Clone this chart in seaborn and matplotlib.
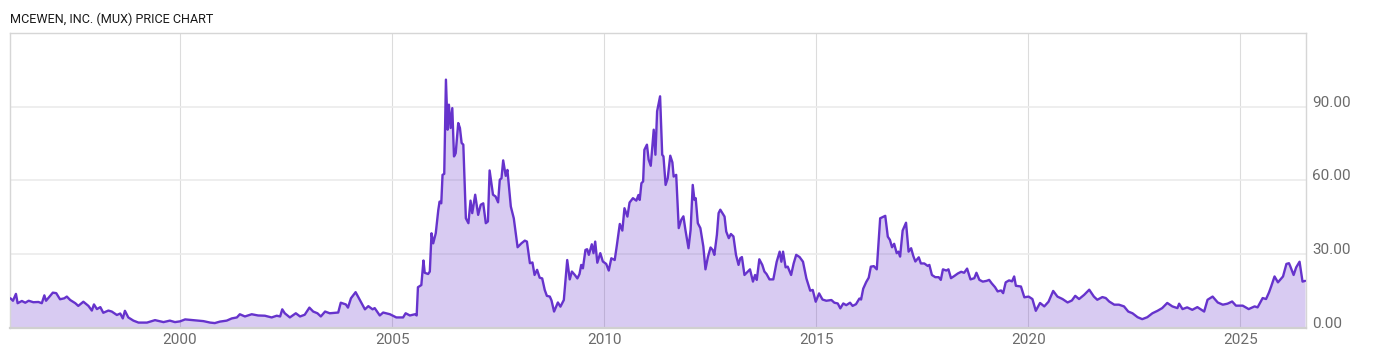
import matplotlib
matplotlib.use("Agg")
import matplotlib.pyplot as plt
import seaborn as sns
import pandas as pd

# ---- data (fractional year, price) ----
years = [
    1996.00, 1996.06, 1996.13, 1996.17, 1996.27, 1996.35, 1996.43, 1996.54, 1996.66, 1996.74,
    1996.80, 1996.84, 1996.94, 1997.00, 1997.08, 1997.17, 1997.27, 1997.33, 1997.41, 1997.53,
    1997.60, 1997.72, 1997.84, 1997.92, 1997.97, 1998.04, 1998.12, 1998.19, 1998.31, 1998.39,
    1998.51, 1998.59, 1998.65, 1998.70, 1998.78, 1998.90, 1999.02, 1999.22, 1999.41, 1999.61,
    1999.76, 1999.88, 2000.00, 2000.12, 2000.31, 2000.55, 2000.71, 2000.82, 2000.94, 2001.10,
    2001.22, 2001.34, 2001.41, 2001.53, 2001.69, 2001.84, 2002.00, 2002.16, 2002.28, 2002.36,
    2002.41, 2002.47, 2002.59, 2002.73, 2002.83, 2002.94, 2003.05, 2003.14, 2003.24, 2003.32,
    2003.42, 2003.53, 2003.73, 2003.79, 2003.91, 2003.96, 2004.03, 2004.14, 2004.24, 2004.36,
    2004.44, 2004.54, 2004.59, 2004.71, 2004.79, 2004.95, 2005.10, 2005.26, 2005.32, 2005.42,
    2005.54, 2005.58, 2005.61, 2005.69, 2005.74, 2005.77, 2005.85, 2005.89, 2005.93, 2005.97,
    2006.03, 2006.09, 2006.12, 2006.16, 2006.19, 2006.23, 2006.27, 2006.31, 2006.34, 2006.38,
    2006.42, 2006.46, 2006.50, 2006.56, 2006.60, 2006.64, 2006.68, 2006.74, 2006.80, 2006.85,
    2006.89, 2006.96, 2007.03, 2007.09, 2007.15, 2007.21, 2007.26, 2007.30, 2007.38, 2007.44,
    2007.50, 2007.54, 2007.58, 2007.62, 2007.68, 2007.72, 2007.80, 2007.87, 2007.96, 2008.05,
    2008.13, 2008.18, 2008.25, 2008.31, 2008.36, 2008.42, 2008.48, 2008.54, 2008.60, 2008.65,
    2008.72, 2008.76, 2008.82, 2008.91, 2008.97, 2009.05, 2009.13, 2009.19, 2009.24, 2009.31,
    2009.37, 2009.42, 2009.46, 2009.50, 2009.56, 2009.60, 2009.64, 2009.71, 2009.75, 2009.79,
    2009.84, 2009.91, 2009.97, 2010.05, 2010.11, 2010.17, 2010.25, 2010.30, 2010.37, 2010.43,
    2010.48, 2010.55, 2010.60, 2010.68, 2010.76, 2010.81, 2010.84, 2010.88, 2010.92, 2010.95,
    2011.01, 2011.05, 2011.10, 2011.17, 2011.21, 2011.25, 2011.32, 2011.37, 2011.40, 2011.45,
    2011.50, 2011.56, 2011.61, 2011.64, 2011.70, 2011.76, 2011.82, 2011.87, 2011.92, 2011.99,
    2012.04, 2012.09, 2012.13, 2012.16, 2012.21, 2012.27, 2012.34, 2012.39, 2012.45, 2012.51,
    2012.56, 2012.60, 2012.66, 2012.70, 2012.74, 2012.84, 2012.88, 2012.94, 2012.99, 2013.05,
    2013.11, 2013.17, 2013.21, 2013.25, 2013.31, 2013.39, 2013.44, 2013.51, 2013.56, 2013.60,
    2013.66, 2013.73, 2013.78, 2013.83, 2013.90, 2013.99, 2014.07, 2014.14, 2014.18, 2014.22,
    2014.28, 2014.33, 2014.41, 2014.47, 2014.53, 2014.61, 2014.69, 2014.77, 2014.86, 2014.92,
    2014.99, 2015.07, 2015.15, 2015.24, 2015.36, 2015.43, 2015.51, 2015.57, 2015.64, 2015.71,
    2015.80, 2015.86, 2015.94, 2016.02, 2016.06, 2016.11, 2016.18, 2016.24, 2016.29, 2016.36,
    2016.43, 2016.51, 2016.59, 2016.63, 2016.69, 2016.74, 2016.79, 2016.84, 2016.90, 2016.94,
    2016.98, 2017.04, 2017.12, 2017.18, 2017.24, 2017.29, 2017.34, 2017.42, 2017.47, 2017.55,
    2017.63, 2017.67, 2017.73, 2017.81, 2017.89, 2017.94, 2017.99, 2018.07, 2018.12, 2018.18,
    2018.26, 2018.34, 2018.42, 2018.49, 2018.56, 2018.64, 2018.73, 2018.78, 2018.85, 2018.93,
    2019.02, 2019.08, 2019.14, 2019.22, 2019.28, 2019.36, 2019.41, 2019.47, 2019.55, 2019.62,
    2019.67, 2019.71, 2019.83, 2019.91, 2020.01, 2020.10, 2020.18, 2020.28, 2020.38, 2020.48,
    2020.59, 2020.69, 2020.81, 2020.93, 2021.03, 2021.11, 2021.20, 2021.32, 2021.44, 2021.55,
    2021.63, 2021.75, 2021.83, 2021.91, 2022.03, 2022.14, 2022.26, 2022.36, 2022.46, 2022.58,
    2022.69, 2022.81, 2022.93, 2023.05, 2023.16, 2023.28, 2023.40, 2023.52, 2023.56, 2023.64,
    2023.75, 2023.87, 2023.99, 2024.15, 2024.23, 2024.35, 2024.47, 2024.59, 2024.70, 2024.81,
    2024.90, 2025.06, 2025.20, 2025.34, 2025.41, 2025.53, 2025.61, 2025.68, 2025.73, 2025.81,
    2025.89, 2026.01, 2026.09, 2026.15, 2026.18, 2026.26, 2026.32, 2026.40, 2026.47, 2026.53,
]
prices = [
    11.9, 10.9, 13.7, 9.9, 10.8, 10.1, 10.9, 10.3, 10.4, 9.9,
    13.1, 10.9, 13.0, 14.2, 14.0, 11.5, 11.9, 12.6, 11.2, 9.9,
    8.8, 10.5, 8.8, 6.9, 9.4, 7.5, 8.3, 6.0, 6.9, 6.5,
    5.1, 5.7, 3.7, 6.8, 4.1, 2.8, 2.0, 2.0, 3.0, 2.2,
    2.8, 2.2, 2.5, 3.3, 3.0, 2.6, 2.0, 1.8, 2.4, 2.8,
    3.7, 4.1, 5.4, 4.5, 5.4, 4.9, 4.8, 4.1, 4.8, 4.5,
    7.4, 5.8, 4.1, 5.8, 4.5, 5.2, 8.1, 6.5, 5.8, 4.5,
    6.5, 5.8, 6.1, 10.1, 9.4, 8.1, 11.9, 14.4, 11.2, 7.4,
    8.7, 7.4, 7.9, 4.9, 6.1, 5.4, 4.1, 4.1, 5.8, 4.9,
    5.4, 4.9, 16.4, 17.3, 27.3, 22.3, 21.8, 22.8, 38.4, 34.3,
    38.4, 47.9, 51.3, 50.6, 62.2, 62.6, 101.0, 80.6, 90.8, 81.3,
    89.4, 69.7, 71.0, 83.3, 81.3, 75.2, 74.5, 44.5, 42.5, 51.7,
    46.6, 54.1, 45.9, 50.0, 50.6, 42.5, 43.2, 64.0, 54.1, 53.4,
    51.0, 60.2, 60.8, 68.1, 61.8, 64.2, 49.3, 44.5, 32.7, 34.3,
    35.4, 35.0, 26.2, 26.5, 21.4, 23.5, 20.3, 20.0, 15.3, 12.9,
    12.6, 11.0, 6.5, 10.2, 8.5, 11.2, 27.5, 19.6, 22.8, 21.4,
    20.0, 21.8, 25.5, 24.1, 31.6, 31.9, 29.6, 33.9, 30.3, 35.0,
    26.4, 30.3, 26.9, 25.9, 23.2, 28.2, 27.5, 33.4, 42.2, 39.5,
    48.6, 45.2, 50.9, 52.7, 51.7, 54.0, 52.0, 58.8, 59.5, 72.4,
    74.5, 68.4, 65.9, 80.6, 70.4, 88.1, 94.2, 70.4, 69.7, 58.1,
    60.8, 70.0, 67.3, 61.5, 62.2, 40.5, 43.9, 45.3, 39.5, 32.3,
    39.8, 58.1, 52.0, 52.7, 42.5, 40.5, 33.0, 23.7, 28.9, 32.6,
    31.6, 29.6, 37.8, 46.6, 48.0, 45.2, 39.1, 36.4, 38.1, 37.1,
    29.6, 25.5, 28.2, 28.7, 21.4, 22.8, 23.7, 18.7, 21.4, 19.4,
    27.8, 25.5, 22.8, 21.8, 19.6, 19.6, 26.8, 30.9, 26.8, 30.9,
    24.5, 24.8, 21.4, 26.1, 29.6, 28.7, 26.8, 20.0, 15.0, 15.3,
    10.5, 13.9, 11.4, 10.9, 11.2, 10.1, 9.8, 7.8, 9.8, 9.1,
    10.1, 8.8, 9.5, 11.8, 11.4, 15.8, 18.5, 20.3, 24.8, 25.0,
    23.7, 44.5, 45.2, 45.5, 37.0, 35.7, 32.7, 34.1, 30.3, 30.9,
    28.9, 39.5, 42.7, 30.9, 32.3, 29.2, 26.9, 28.6, 26.1, 26.1,
    25.1, 25.5, 21.4, 20.5, 20.5, 19.4, 23.7, 23.2, 23.7, 20.1,
    21.0, 22.0, 22.7, 22.3, 24.0, 19.6, 20.1, 22.3, 19.4, 18.7,
    19.0, 19.4, 18.0, 16.4, 14.7, 15.1, 14.0, 18.4, 19.2, 18.8,
    20.8, 17.0, 16.7, 12.3, 12.6, 11.6, 6.8, 10.0, 8.6, 10.5,
    14.9, 12.6, 11.6, 10.2, 11.0, 12.9, 11.6, 13.3, 15.4, 12.6,
    11.3, 12.4, 12.0, 10.6, 9.3, 9.3, 8.6, 6.5, 5.8, 4.2,
    3.4, 4.2, 5.8, 6.8, 7.9, 10.0, 8.6, 7.9, 9.7, 7.5,
    8.2, 7.2, 8.3, 6.5, 11.3, 12.6, 10.2, 9.3, 9.7, 10.6,
    8.9, 8.9, 7.5, 8.6, 8.2, 12.0, 11.6, 14.3, 16.7, 20.8,
    18.4, 20.8, 25.9, 26.2, 25.0, 21.4, 24.5, 26.8, 18.7, 19.0,
]
x_ticks = [2000, 2005, 2010, 2015, 2020, 2025]
x_tick_labels = ["2000", "2005", "2010", "2015", "2020", "2025"]
y_ticks = [0, 30, 60, 90]
y_tick_labels = ["0.00", "30.00", "60.00", "90.00"]
title = "MCEWEN, INC. (MUX) PRICE CHART"

df = pd.DataFrame({"year": years, "price": prices})

sns.set_style("white")
font_list = ["Liberation Sans Narrow", "Roboto", "DejaVu Sans"]
plt.rcParams["font.family"] = font_list

line_color = "#6633cc"

fig = plt.figure(figsize=(14, 3.57), dpi=100)
ax = fig.add_axes([10 / 1400, 1 - 327.5 / 357, 1295.5 / 1400, 294.5 / 357])

ax.fill_between(df["year"], df["price"], 0, color=line_color, alpha=0.25, linewidth=0, zorder=1)
sns.lineplot(data=df, x="year", y="price", color=line_color, linewidth=1.7, ax=ax, zorder=3)

ax.set_xlim(1995.99, 2026.54)
ax.set_ylim(0, 120)

ax.yaxis.tick_right()
ax.set_yticks(y_ticks)
ax.set_yticklabels(y_tick_labels)
ax.set_xticks(x_ticks)
ax.set_xticklabels(x_tick_labels)
ax.set_xlabel("")
ax.set_ylabel("")

ax.tick_params(axis="both", length=0, labelsize=11.0, labelcolor="#6b6b6b")
ax.tick_params(axis="x", pad=4)
ax.tick_params(axis="y", pad=5)
for lbl in ax.get_yticklabels():
    lbl.set_va("baseline")

ax.grid(axis="y", color="#ebebeb", linewidth=1.2, zorder=0)
ax.grid(axis="x", color="#dcdcdc", linewidth=0.8, zorder=0)
ax.set_axisbelow(True)

for side in ["left", "right", "top"]:
    ax.spines[side].set_color("#d6d6d6")
    ax.spines[side].set_linewidth(1.0)
ax.spines["bottom"].set_color("#d0d0d0")
ax.spines["bottom"].set_linewidth(1.6)

fig.text(10 / 1400, 1 - 22.7 / 357, title, fontsize=9.1, color="#1a1a1a",
         ha="left", va="baseline", family=font_list)

fig.savefig("out.png", dpi=100)
